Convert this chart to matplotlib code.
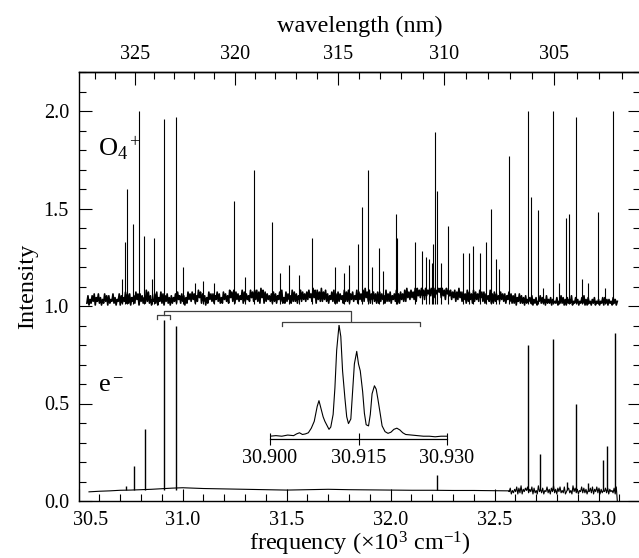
import numpy as np
import matplotlib
matplotlib.use('Agg')
import matplotlib.pyplot as plt
from matplotlib.ticker import MultipleLocator, FuncFormatter, FixedLocator

plt.rcParams['font.family'] = ['Liberation Serif', 'DejaVu Serif']
plt.rcParams['mathtext.fontset'] = 'custom'
plt.rcParams['mathtext.rm'] = 'Liberation Serif'
plt.rcParams['mathtext.it'] = 'Liberation Serif:italic'
plt.rcParams['mathtext.bf'] = 'Liberation Serif:bold'

# ---------------- data ----------------
# O4+ spectrum (offset by 1.0): baseline "grass" heights, hand-read, one digit per point
o4_start, o4_end = 30.54, 33.09
o4_grass_digits = (
    "1503152604" "2614031625" "0513261403" "2605142716" "1604251736"
    "0625141827" "1503261704" "2716052614" "0514261735" "1625041736"
    "2736152847" "1625041736" "2615372614" "1736251847" "2817362538"
    "1726352847" "2838271948" "1726352617" "2615372814" "1726351827"
    "2615382736" "2738462948" "1837292738" "2615372816" "1726351827"
    "2816372538" "1736282947" "2816372617" "1726351826" "2715362816"
    "1736282947" "3847392958" "4958395869" "5969486979" "4958396858"
    "3748273947" "2736182736" "1827362847" "2716352816" "1726352736"
    "2615372615" "1604261514" "0513241503" "1402251413" "0513140312"
    "1402151403" "0413150214" "1302141503" "0412031402" "1302140413"
    "0312041302"
)
# O4+ sharp lines: frequency (10^3 cm^-1) and intensity (offset scale)
o4_peak_freq = [30.707, 30.722, 30.731, 30.763, 30.790, 30.814, 30.851, 30.864,
                30.911, 30.967, 31.003, 31.060, 31.097, 31.150, 31.246, 31.300,
                31.343, 31.430, 31.467, 31.512, 31.560, 31.624, 31.733, 31.776,
                31.800, 31.842, 31.863, 31.893, 31.909, 31.946, 31.962, 32.026,
                32.030, 32.117, 32.152, 32.170, 32.185, 32.200, 32.205, 32.215,
                32.225, 32.240, 32.278, 32.350, 32.378, 32.398, 32.430, 32.459,
                32.483, 32.505, 32.520, 32.571, 32.659, 32.675, 32.709, 32.734,
                32.779, 32.810, 32.842, 32.858, 32.890, 32.920, 32.950, 32.998,
                33.030, 33.071]
o4_peak_int = [1.14, 1.33, 1.60, 1.42, 2.00, 1.36, 1.14, 1.35,
               1.96, 1.97, 1.20, 1.12, 1.13, 1.12, 1.54, 1.15,
               1.70, 1.43, 1.17, 1.21, 1.16, 1.35, 1.20, 1.17,
               1.21, 1.32, 1.51, 1.70, 1.20, 1.30, 1.18, 1.47,
               1.35, 1.33, 1.28, 1.25, 1.24, 1.22, 1.32, 1.89,
               1.59, 1.22, 1.41, 1.27, 1.27, 1.31, 1.27, 1.33,
               1.50, 1.24, 1.19, 1.77, 2.00, 1.56, 1.49, 1.09,
               2.00, 1.12, 1.45, 1.47, 1.97, 1.14, 1.12, 1.48,
               1.09, 2.00]

# e- spectrum: smooth baseline part
e_base_freq = [30.55, 30.60, 30.65, 30.70, 30.75, 30.80, 30.85, 30.90, 30.95, 31.00,
               31.05, 31.10, 31.20, 31.30, 31.40, 31.50, 31.60, 31.70, 31.80, 31.90,
               32.00, 32.10, 32.20, 32.30, 32.40, 32.50, 32.57]
e_base_val = [0.047, 0.050, 0.052, 0.055, 0.056, 0.058, 0.060, 0.063, 0.066, 0.068,
              0.066, 0.064, 0.062, 0.060, 0.058, 0.056, 0.058, 0.060, 0.058, 0.057,
              0.056, 0.055, 0.055, 0.054, 0.054, 0.053, 0.052]
# e- noisy part (32.57 - 33.085), one digit per point
e_noise_start, e_noise_end = 32.57, 33.085
e_noise_digits = ("3614253716" "2815364725" "3716241835" "2614372516" "3825163724"
                  "2713562418" "3625143726" "2514362715" "3726152436" "2615342617")
e_peak_freq = [30.730, 30.765, 30.818, 30.912, 30.969, 32.222, 32.660, 32.716,
               32.780, 32.850, 32.892, 32.950, 33.020, 33.040, 33.077]
e_peak_int = [0.075, 0.18, 0.37, 0.93, 0.90, 0.135, 0.80, 0.24,
              0.83, 0.10, 0.50, 0.09, 0.21, 0.28, 0.86]

# inset: high-resolution scan of the 30.912 line
inset_freq = [30.9000, 30.9010, 30.9020, 30.9030, 30.9040, 30.9045, 30.9050, 30.9055,
              30.9060, 30.9065, 30.9070, 30.9075, 30.9080, 30.9083, 30.9086, 30.9090,
              30.9093, 30.9097, 30.9100, 30.9103, 30.9107, 30.9110, 30.9113, 30.9117,
              30.9120, 30.9123, 30.9127, 30.9130, 30.9133, 30.9137, 30.9140, 30.9143,
              30.9147, 30.9150, 30.9153, 30.9157, 30.9160, 30.9163, 30.9167, 30.9170,
              30.9173, 30.9177, 30.9180, 30.9183, 30.9187, 30.9190, 30.9195, 30.9200,
              30.9205, 30.9210, 30.9215, 30.9220, 30.9225, 30.9230, 30.9240, 30.9250,
              30.9260, 30.9270, 30.9280, 30.9290, 30.9300]
inset_int = [0.03, 0.035, 0.03, 0.04, 0.035, 0.05, 0.06, 0.045,
             0.05, 0.06, 0.10, 0.16, 0.29, 0.34, 0.28, 0.20,
             0.16, 0.12, 0.09, 0.11, 0.22, 0.45, 0.78, 1.00,
             0.90, 0.60, 0.36, 0.20, 0.14, 0.18, 0.42, 0.66,
             0.77, 0.66, 0.60, 0.42, 0.23, 0.13, 0.12, 0.22,
             0.40, 0.47, 0.44, 0.35, 0.22, 0.12, 0.07, 0.055,
             0.065, 0.09, 0.10, 0.085, 0.06, 0.045, 0.04, 0.035,
             0.03, 0.03, 0.025, 0.03, 0.03]
inset_ticks = [30.900, 30.915, 30.930]

x_major = [30.5, 31.0, 31.5, 32.0, 32.5, 33.0]
wl_major = [325, 320, 315, 310, 305]
y_major = [0.0, 0.5, 1.0, 1.5, 2.0]

# ---------------- figure ----------------
W, H = 639, 558
fig = plt.figure(figsize=(W / 100, H / 100), dpi=100)
ax_l, ax_r, ax_t, ax_b = 78.6, 640.2, 72, 501
ax = fig.add_axes([ax_l / W, 1 - ax_b / H, (ax_r - ax_l) / W, (ax_b - ax_t) / H])
ax.set_xlim(30.5, 33.2)
ax.set_ylim(0, 2.2)

# O4+ grass
g = np.array([int(c) for c in o4_grass_digits])
gx = np.linspace(o4_start, o4_end, len(g))
ax.plot(gx, 1.005 + 0.0095 * g, color='k', lw=1.2)
ax.vlines(o4_peak_freq, 1.01, o4_peak_int, color='k', lw=0.8)

# e- trace
en = np.array([int(c) for c in e_noise_digits])
enx = np.linspace(e_noise_start, e_noise_end, len(en))
ex = list(e_base_freq) + list(enx) + [33.09]
ey = list(e_base_val) + list(0.03 + 0.006 * en) + [0.0]
ax.plot(ex, ey, color='k', lw=0.8)
ax.vlines(e_peak_freq, 0.055, e_peak_int, color='k', lw=1.0)

# brackets
bc = '0.25'
ax.plot([30.878, 30.878, 30.939, 30.939], [0.933, 0.954, 0.954, 0.933], color=bc, lw=0.9)
ax.plot([30.909, 30.909, 31.808, 31.808], [0.954, 0.974, 0.974, 0.925], color=bc, lw=0.9)
ax.plot([31.476, 31.476, 32.141, 32.141], [0.90, 0.92, 0.92, 0.90], color=bc, lw=0.9)

# ticks
ax.xaxis.set_major_locator(FixedLocator(x_major))
ax.xaxis.set_minor_locator(MultipleLocator(0.1))
ax.xaxis.set_major_formatter(FuncFormatter(lambda v, p: '' if abs(v - 30.5) < 1e-6 else f'{v:.1f}'))
ax.yaxis.set_major_locator(FixedLocator(y_major))
ax.yaxis.set_minor_locator(MultipleLocator(0.1))
ax.yaxis.set_major_formatter(FuncFormatter(lambda v, p: f'{v:.1f}'))
ax.tick_params(which='both', direction='in', top=False, right=True, width=0.8)
ax.tick_params(which='major', length=9, labelsize=14.5, pad=7)
ax.tick_params(which='minor', length=4.8)
for s in ax.spines.values():
    s.set_linewidth(1.0)
ax.annotate('30.5', xy=(30.5, 0), xycoords=('data', 'axes fraction'),
            xytext=(8.5, -7), textcoords='offset points', ha='center', va='top',
            fontsize=14.5)

def f2w(f):
    f = np.asarray(f, dtype=float)
    with np.errstate(divide='ignore'):
        return 1e4 / f

sec = ax.secondary_xaxis('top', functions=(f2w, f2w))
sec.xaxis.set_major_locator(FixedLocator(wl_major))
sec.xaxis.set_minor_locator(MultipleLocator(1))
sec.xaxis.set_major_formatter(FuncFormatter(lambda v, p: f'{v:.0f}'))
sec.tick_params(which='both', direction='in', width=0.8)
sec.tick_params(which='major', length=9, labelsize=14.5, pad=6)
sec.tick_params(which='minor', length=4.8)
sec.spines['top'].set_linewidth(1.0)
sec.set_xlabel('wavelength (nm)', fontsize=17.5, labelpad=9)

ax.set_xlabel('frequency (×10$^3$ cm$^{-1}$)', fontsize=17.5, labelpad=0)
ax.set_ylabel('Intensity', fontsize=17.5, labelpad=4)

ax.text(30.592, 1.77, 'O$_4$$^+$', fontsize=19, ha='left', va='baseline')
ax.text(30.595, 0.56, 'e$^-$', fontsize=19, ha='left', va='baseline')

# inset
in_l, in_r, in_b, in_t = 270, 447, 438.5, 325
axi = fig.add_axes([in_l / W, 1 - in_b / H, (in_r - in_l) / W, (in_b - in_t) / H])
axi.patch.set_alpha(0)
axi.plot(inset_freq, inset_int, color='k', lw=0.8)
axi.set_xlim(30.900, 30.930)
axi.set_ylim(0.01, 1.0)
for s in ['top', 'left', 'right']:
    axi.spines[s].set_visible(False)
axi.spines['bottom'].set_linewidth(0.9)
axi.set_yticks([])
axi.xaxis.set_major_locator(FixedLocator(inset_ticks))
axi.xaxis.set_major_formatter(FuncFormatter(lambda v, p: f'{v:.3f}'))
axi.tick_params(axis='x', direction='inout', length=9, width=0.8, labelsize=14.5, pad=3)

fig.savefig('out.png', dpi=100)
